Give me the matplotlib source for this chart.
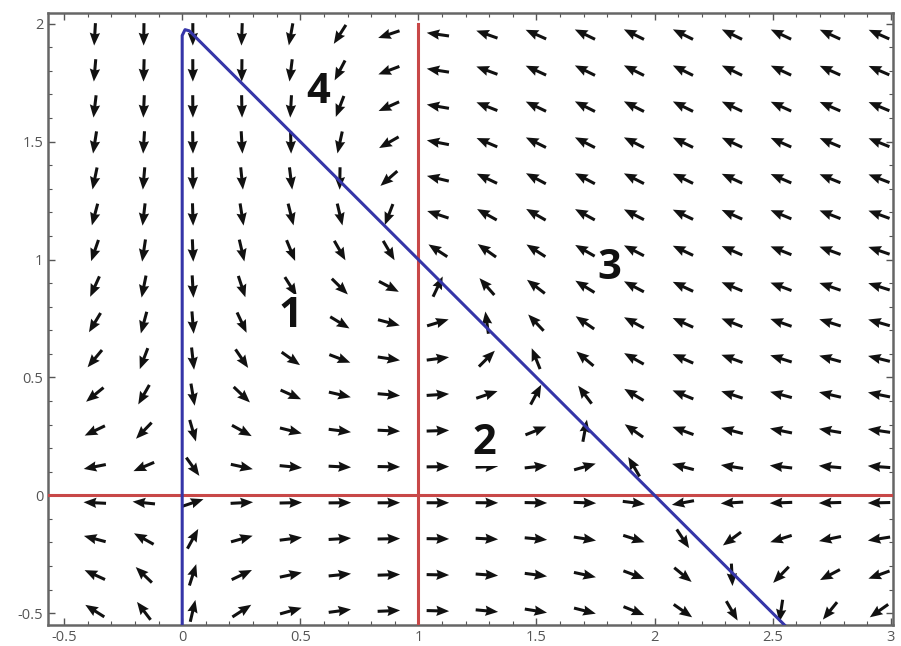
import numpy as np
import matplotlib
matplotlib.use("Agg")
import matplotlib.pyplot as plt
from matplotlib.ticker import MultipleLocator

# Competition-type system:
#   x' = x * (a - b*x - c*y)
#   y' = y * (d*x - e)
a, b, c = 2.0, 1.0, 1.0
d, e = 1.0, 1.0

x_range = (-0.568, 3.01)
y_range = (-0.55, 2.046)

# arrow sample positions
arrow_x = np.linspace(-0.37, 2.95, 17)
arrow_y = np.linspace(-0.49, 1.955, 17)

# nullclines
x_null_v = 0.0          # x = 0
x_null_top = 1.97       # where the x=0 branch turns onto the diagonal
y_null_h = 0.0          # y = 0
y_null_v = e / d        # x = 1
y_null_v_top = 2.0
red_h_end = 3.0

region_labels = ["1", "2", "3", "4"]
region_x = [0.46, 1.28, 1.81, 0.575]
region_y = [0.76, 0.22, 0.96, 1.71]

plt.rcParams['font.family'] = ['Open Sans', 'DejaVu Sans']

fig = plt.figure(figsize=(9.01, 6.46), dpi=100)
ax = fig.add_axes([0.0533, 0.0325, 0.938, 0.9475])

X, Y = np.meshgrid(arrow_x, arrow_y)
U = X * (a - b * X - c * Y)
V = Y * (d * X - e)
N = np.hypot(U, V)
N[N == 0] = 1
ax.quiver(X, Y, U / N, V / N, pivot='middle', angles='xy',
          scale_units='xy', scale=10.5, width=0.0036,
          headwidth=3.4, headlength=4.2, headaxislength=3.8,
          color='#111111', zorder=2)

red = '#c84848'
blue = '#3535a8'

# y-nullclines (red)
ax.plot([x_range[0], red_h_end], [y_null_h, y_null_h], color=red, lw=2.2, zorder=3)
ax.plot([y_null_v, y_null_v], [y_range[0], y_null_v_top], color=red, lw=2.2, zorder=3)

# x-nullclines (blue): x = 0 joined to b*x + c*y = a
diag_x = np.linspace(0.03, (a - c * y_range[0]) / b, 50)
diag_y = (a - b * diag_x) / c
bx = np.concatenate([[x_null_v, x_null_v, 0.012], diag_x])
by = np.concatenate([[y_range[0], x_null_top - 0.02, x_null_top + 0.005], diag_y])
ax.plot(bx, by, color=blue, lw=2.2, zorder=4, solid_joinstyle='round')

for lab, lx, ly in zip(region_labels, region_x, region_y):
    ax.text(lx, ly, lab, fontsize=30, fontweight='bold', ha='center',
            va='center', color='#111111', zorder=5,
            bbox=dict(boxstyle='square,pad=0.05', fc='white', ec='none'))

ax.set_xlim(*x_range)
ax.set_ylim(*y_range)
ax.xaxis.set_major_locator(MultipleLocator(0.5))
ax.yaxis.set_major_locator(MultipleLocator(0.5))
ax.xaxis.set_minor_locator(MultipleLocator(0.1))
ax.yaxis.set_minor_locator(MultipleLocator(0.1))
ax.xaxis.set_major_formatter(plt.FuncFormatter(lambda v, p: f"{v:g}"))
ax.yaxis.set_major_formatter(plt.FuncFormatter(lambda v, p: f"{v:g}"))
ax.tick_params(which='both', direction='in', top=True, right=True,
               labeltop=False, labelright=False, color='#555555',
               labelcolor='#555555', labelsize=10.5)
ax.tick_params(which='major', length=5, width=1.0)
ax.tick_params(which='minor', length=3, width=0.8)
for s in ax.spines.values():
    s.set_color('#666666')
    s.set_linewidth(1.8)

fig.savefig("out.png", dpi=100)
